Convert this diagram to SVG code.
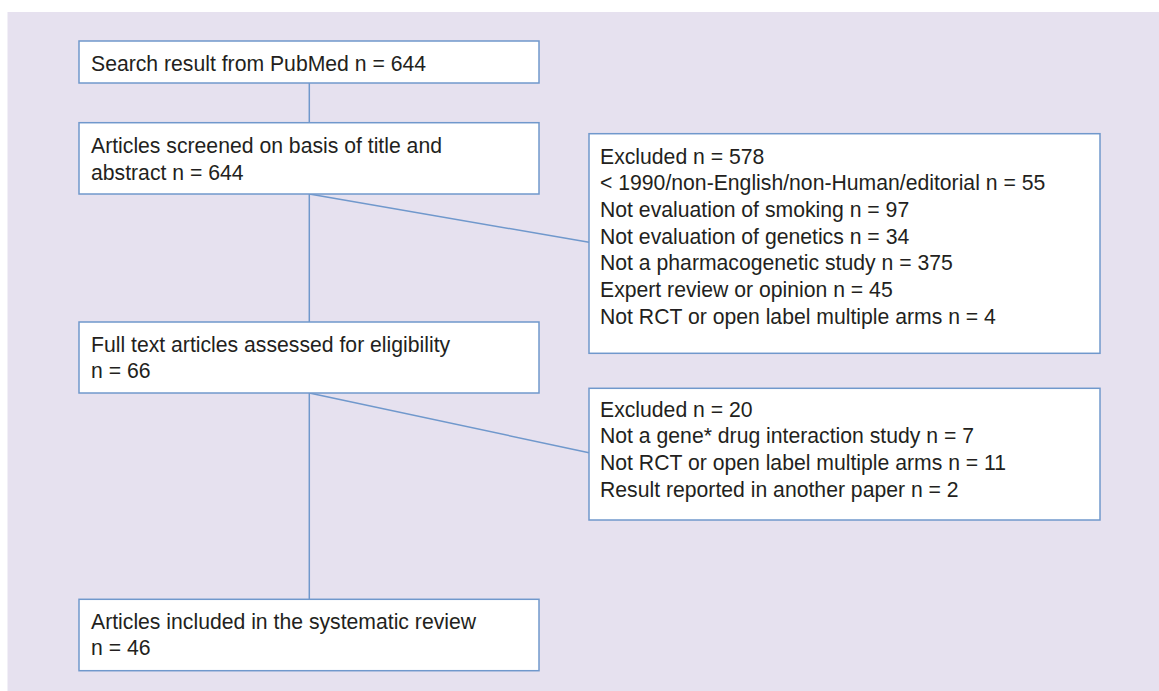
<svg xmlns="http://www.w3.org/2000/svg" width="1159" height="691" viewBox="0 0 1159 691">
<style>
.bg{fill:#e6e1ef}
.box{fill:#ffffff;stroke:#7098cc;stroke-width:1.5}
.t{font-family:"Liberation Sans",Arial,sans-serif;font-size:21.2px;fill:#231f20}
.c{stroke:#7098cc;stroke-width:1.5;fill:none}
</style>
<rect class="bg" x="7.5" y="12" width="1152" height="679"/>
<g id="connectors">
<line class="c" x1="309.3" y1="83" x2="309.3" y2="122.7"/>
<line class="c" x1="309.3" y1="194" x2="309.3" y2="322"/>
<line class="c" x1="309.3" y1="393" x2="309.3" y2="599.3"/>
<line class="c" x1="309.3" y1="194" x2="589" y2="242.3"/>
<line class="c" x1="309.3" y1="393" x2="589" y2="452.7"/>
</g>
<g id="search">
<rect class="box" x="79" y="41" width="460" height="42"/>
<text class="t" x="91" y="71">Search result from PubMed n = 644</text>
</g>
<g id="screened">
<rect class="box" x="79" y="122.7" width="460" height="71.3"/>
<text class="t" x="91" y="153.3">Articles screened on basis of title and</text>
<text class="t" x="91" y="180">abstract n = 644</text>
</g>
<g id="excluded1">
<rect class="box" x="589" y="133.7" width="511" height="219.6"/>
<text class="t" x="600" y="163.5">Excluded n = 578</text>
<text class="t" x="600" y="190.2">&lt; 1990/non-English/non-Human/editorial n = 55</text>
<text class="t" x="600" y="216.9">Not evaluation of smoking n = 97</text>
<text class="t" x="600" y="243.6">Not evaluation of genetics n = 34</text>
<text class="t" x="600" y="270.3">Not a pharmacogenetic study n = 375</text>
<text class="t" x="600" y="297">Expert review or opinion n = 45</text>
<text class="t" x="600" y="323.7">Not RCT or open label multiple arms n = 4</text>
</g>
<g id="fulltext">
<rect class="box" x="79" y="322" width="460" height="71"/>
<text class="t" x="91" y="351.7">Full text articles assessed for eligibility</text>
<text class="t" x="91" y="378.3">n = 66</text>
</g>
<g id="excluded2">
<rect class="box" x="589" y="388.3" width="511" height="131.7"/>
<text class="t" x="600" y="416.7">Excluded n = 20</text>
<text class="t" x="600" y="443.4">Not a gene* drug interaction study n = 7</text>
<text class="t" x="600" y="470.1">Not RCT or open label multiple arms n = 11</text>
<text class="t" x="600" y="496.8">Result reported in another paper n = 2</text>
</g>
<g id="included">
<rect class="box" x="79" y="599.3" width="460" height="71.4"/>
<text class="t" x="91" y="628.5">Articles included in the systematic review</text>
<text class="t" x="91" y="655">n = 46</text>
</g>
</svg>
